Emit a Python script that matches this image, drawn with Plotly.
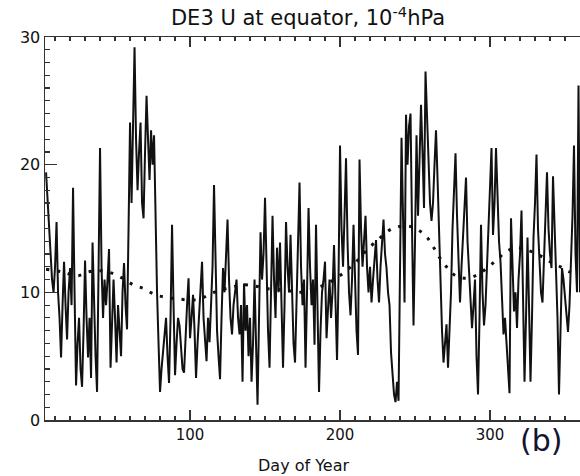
import plotly.graph_objects as go

# ---- data ----
# daily zonal wind (m/s), segments by start day
u_start_day = 4
u_seg_a = [19.4,17,15.5,13,11,10,12,15.5,10,8, 4.9,9,12.4,9,6.3,10,11.9,9,18.2,10,
           2.7,6,8,4,2.6,7,12.5,8,4.9,8, 3.3,13.9,8,5,2.2,10,21.3,12,8,11,
           9,11,13.4,4.1,7,11,8,4.5,9,7, 5,10,12.3,9,7.1,15,23.3]            # days 4-60
u_seg_b = [17,22.5,29.2,22,18,21,23.3,17,15.8,21,25.4,22,18.8,22.7,20,22.3,15.4,10,6]  # 61-79
u_seg_c = [2.2,4,5.4,7,8,5,2.9,8,15.3,9, 3.5,6,8,7.4,6,4,3.7,7,9,11.1,
           6.4,8,9.8,7,3.3,6,8,10,12.4,8, 6,4.6,8,6.1,9,12,18.4,12,7,5,
           3.2,8,11.9,10,13,15.7,11,8,6.7,9, 10,11,8,6.7,9,3,10.7,7,9,5,
           8,3,6,11,6]                                                         # 80-144
u_seg_d = [1.2,8,14.7,11,13,17.4,11,7,4.1,9, 16,11,8,13.5,10,13.9,8,4.1,9,15.5,
           12,10,14.5,9,6,4.5,10,14,18.6,12, 9,11,4.1,10,16.6,12,9,11,5.9,15.3,
           8,2.2,7,10,11,12.4,6.4,9,11,8, 10,13.7,9,4.7,11,21.5,15,12,16,20.5,
           14,10,8.2,11,15.3,10,7,5.1,20.4,15, 12,14,16,12,10,12]             # 145-220
u_seg_e = [9.2,11,13,14.1,11,9.2,12,14,15.7,13, 11.9,10,9,5.3,3.5,2,1.4,3,1.5,12,
           22.1,16,9.2,23.9,20,23,24,15,7.4,14, 22.3,16,20,24.7,21,16.6,27.3,24,21,17,
           15.6,17,20,22.7,19,15.6,11,7,4.5,6, 7.5,4.1,7,10,15,18,20.9,16,12,9.2,
           12,14,16,19,14,12,9,7.2,9,11,5]                                     # 221-291
u_seg_f = [2,8,15.3,10,7.4,9,11.9,16,18,21.3, 14.5,17,21.3,17,14,12.4,9,6.7,8,5.9,
           4,2.1,15.8,11,8.5,10,7.2,11,13,16.4, 9,3,8,14.3,9,3,8,14.3,17,20.8,
           15,11.9,10,9.2,12,16,19.4,15,13,11.9, 19.1,15,12.4,8,2,6,11.9,11,9.8,8,
           6.9,9,11.9,16,21.5,13,10,26.2,10]                                   # 292-360

# smoothed (dotted) curve
clim_days = [4, 15, 25, 32, 40, 48, 55, 62, 69, 77, 85, 91, 100, 107, 114, 121, 128,
             135, 143, 151, 160, 167, 173, 180, 190, 201, 210, 217, 226, 235, 245,
             252, 258, 262, 266, 271, 277, 285, 292, 298, 305, 311, 318, 325, 333,
             340, 347, 353, 360]
clim_vals = [11.8, 11.6, 11.3, 11.6, 11.7, 11.5, 11.1, 10.6, 10.3, 9.8, 9.6, 9.5, 9.4,
             9.5, 9.9, 10.2, 10.4, 10.6, 10.5, 10.3, 10.2, 10.1, 10.0, 10.2, 10.6, 11.4,
             12.3, 13.2, 14.2, 15.0, 15.2, 14.9, 14.3, 13.6, 12.8, 12.0, 11.3, 11.1,
             11.4, 11.9, 12.6, 13.2, 13.5, 13.3, 12.9, 12.4, 12.0, 11.6, 11.5]

x_tick_vals = [100, 200, 300]
x_tick_text = ["100", "200", "300"]
y_tick_vals = [0, 10, 20, 30]
y_tick_text = ["0", "10", "20", "30"]

u_vals = u_seg_a + u_seg_b + u_seg_c + u_seg_d + u_seg_e + u_seg_f
u_days = [u_start_day + i for i in range(len(u_vals))]

FONT = "DejaVu Sans, Liberation Sans, Arial, sans-serif"

fig = go.Figure()
fig.add_trace(go.Scatter(x=u_days, y=u_vals, mode="lines",
                         line=dict(color="#111111", width=2.0),
                         showlegend=False, hoverinfo="skip"))
fig.add_trace(go.Scatter(x=clim_days, y=clim_vals, mode="lines",
                         line=dict(color="#111111", width=3, dash="3px,8px", shape="spline"),
                         showlegend=False, hoverinfo="skip"))

fig.update_layout(
    width=580, height=476,
    margin=dict(l=45, r=0, t=37, b=56, autoexpand=False),
    paper_bgcolor="white", plot_bgcolor="white",
    font=dict(family=FONT, color="#111111"),
    title=dict(text="DE3 U at equator, 10<sup>-4</sup>hPa", x=308 / 580, xref="container",
               y=1 - 18 / 476, yref="container", xanchor="center", yanchor="middle",
               font=dict(size=21, family=FONT, color="#111111")),
    xaxis=dict(range=[3.3, 360], showgrid=False, zeroline=False, automargin=False,
               showline=True, linecolor="#333333", linewidth=1.5, mirror="allticks",
               ticks="inside", ticklen=10, tickwidth=1.5, tickcolor="#333333",
               tickvals=x_tick_vals, ticktext=x_tick_text,
               tickfont=dict(size=15, family=FONT, color="#111111"),
               minor=dict(dtick=10, tick0=0, ticks="inside", ticklen=4,
                          tickwidth=1.2, tickcolor="#333333")),
    yaxis=dict(range=[0, 30], showgrid=False, zeroline=False, automargin=False,
               showline=True, linecolor="#333333", linewidth=1.5, mirror=False,
               ticks="inside", ticklen=12, tickwidth=1.5, tickcolor="#333333",
               tickvals=y_tick_vals, ticktext=y_tick_text,
               tickfont=dict(size=16, family=FONT, color="#111111"),
               minor=dict(dtick=1, tick0=0, ticks="inside", ticklen=5,
                          tickwidth=1.2, tickcolor="#333333")),
    annotations=[
        dict(text="Day of Year", xref="paper", yref="paper",
             x=(303 - 45) / 535, y=(420 - 465) / 383, xanchor="center", yanchor="middle",
             showarrow=False, font=dict(size=16, family=FONT, color="#111111")),
        dict(text="(b)", xref="paper", yref="paper",
             x=(541 - 45) / 535, y=(420 - 440) / 383, xanchor="center", yanchor="middle",
             showarrow=False, font=dict(size=30, family=FONT, color="#141432")),
    ],
)

fig.write_html(
    "out.html",
    config={"displayModeBar": False, "staticPlot": True},
    post_script="document.body.style.margin='0';document.body.style.padding='0';"
                "document.body.style.overflow='hidden';",
)
